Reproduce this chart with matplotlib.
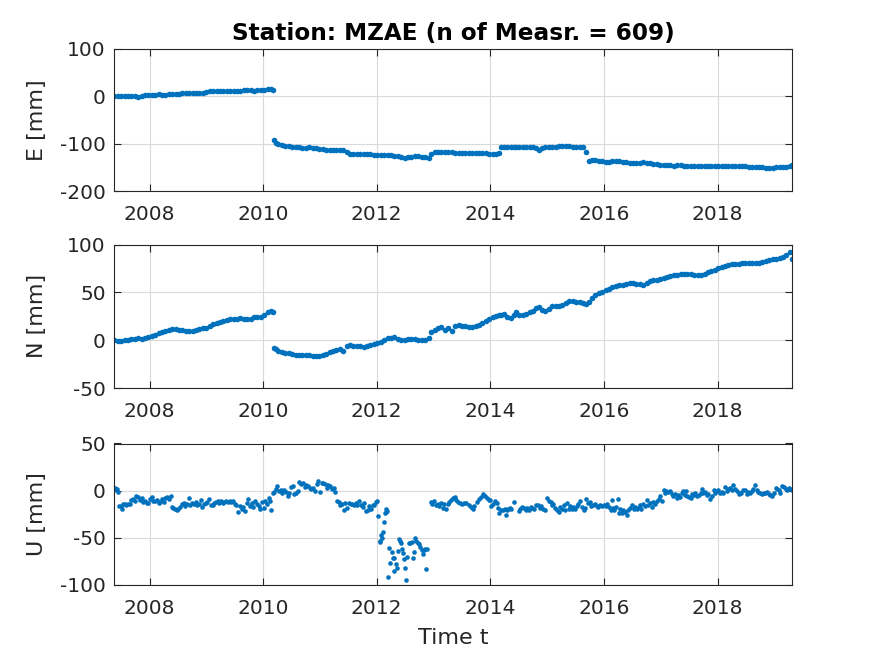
import matplotlib
matplotlib.use("Agg")
import matplotlib.pyplot as plt

plt.rcParams["axes.unicode_minus"] = False

# decimal years shared by the E and N panels
t_en = [
    2007.38, 2007.44, 2007.50, 2007.56, 2007.62, 2007.68, 2007.74, 2007.80, 2007.86, 2007.92,
    2007.98, 2008.04, 2008.10, 2008.16, 2008.22, 2008.28, 2008.34, 2008.40, 2008.46, 2008.52,
    2008.58, 2008.64, 2008.70, 2008.76, 2008.82, 2008.88, 2008.94, 2009.00, 2009.06, 2009.12,
    2009.18, 2009.24, 2009.30, 2009.36, 2009.42, 2009.48, 2009.54, 2009.60, 2009.66, 2009.72,
    2009.78, 2009.84, 2009.90, 2009.96, 2010.02, 2010.08, 2010.13, 2010.17,
    2010.19, 2010.22, 2010.27, 2010.33, 2010.39, 2010.45, 2010.51, 2010.57, 2010.63, 2010.69,
    2010.75, 2010.81, 2010.87, 2010.93, 2010.99, 2011.05, 2011.11, 2011.17, 2011.23, 2011.29,
    2011.35, 2011.41, 2011.47, 2011.53, 2011.59, 2011.65, 2011.71, 2011.77, 2011.83, 2011.89,
    2011.95, 2012.01, 2012.07, 2012.13, 2012.19, 2012.25, 2012.31, 2012.37, 2012.43, 2012.49,
    2012.55, 2012.61, 2012.67, 2012.73, 2012.79, 2012.85, 2012.92,
    2012.96, 2013.02, 2013.08, 2013.14, 2013.20, 2013.26, 2013.32, 2013.38, 2013.44, 2013.50,
    2013.56, 2013.62, 2013.68, 2013.74, 2013.80, 2013.86, 2013.92, 2013.98, 2014.04, 2014.10,
    2014.15,
    2014.18, 2014.24, 2014.30, 2014.36, 2014.42, 2014.46,
    2014.51, 2014.57, 2014.63, 2014.69, 2014.75, 2014.81, 2014.85, 2014.91, 2014.97, 2015.03,
    2015.09, 2015.15, 2015.21, 2015.27, 2015.33, 2015.39, 2015.45, 2015.51, 2015.57, 2015.63,
    2015.68,
    2015.73, 2015.79, 2015.85, 2015.91, 2015.97, 2016.03, 2016.09, 2016.15, 2016.21, 2016.27,
    2016.33, 2016.39, 2016.45, 2016.51, 2016.57, 2016.63, 2016.69, 2016.75, 2016.81, 2016.87,
    2016.93, 2016.99, 2017.05, 2017.11, 2017.17, 2017.23, 2017.29, 2017.35, 2017.41, 2017.47,
    2017.53, 2017.59, 2017.65, 2017.71, 2017.77, 2017.83, 2017.89, 2017.95, 2018.01, 2018.07,
    2018.13, 2018.19, 2018.25, 2018.31, 2018.37, 2018.43, 2018.49, 2018.55, 2018.61, 2018.67,
    2018.73, 2018.79, 2018.85, 2018.91, 2018.97, 2019.03, 2019.09, 2019.15, 2019.21, 2019.27,
    2019.31,
]

east = [
    0, 0, 1, 0, 0, 1, 0, -1, 0, 2,
    2, 3, 3, 4, 3, 3, 4, 5, 4, 5,
    6, 6, 6, 7, 6, 6, 8, 10, 11, 11,
    11, 11, 12, 11, 11, 12, 12, 12, 13, 14,
    13, 12, 13, 14, 14, 15, 15, 14,
    -92, -98, -100, -102, -104, -104, -106, -108, -108, -109,
    -109, -108, -110, -110, -112, -111, -113, -114, -113, -113,
    -113, -114, -118, -121, -121, -121, -121, -122, -122, -122,
    -123, -123, -124, -123, -123, -124, -125, -126, -129, -130,
    -129, -128, -127, -127, -128, -129, -131,
    -121, -118, -117, -117, -118, -117, -118, -120, -120, -120,
    -120, -120, -120, -120, -120, -120, -120, -121, -121, -121,
    -120,
    -107, -106, -106, -106, -107, -106,
    -106, -107, -108, -108, -108, -109, -113, -109, -108, -107,
    -107, -106, -105, -104, -104, -105, -106, -106, -107, -108,
    -117,
    -137, -135, -135, -136, -137, -138, -138, -137, -137, -136,
    -138, -139, -140, -141, -140, -140, -139, -140, -141, -143,
    -144, -145, -145, -145, -146, -147, -146, -146, -147, -147,
    -147, -147, -148, -148, -148, -148, -148, -147, -147, -147,
    -147, -148, -148, -148, -148, -147, -148, -149, -149, -149,
    -149, -150, -151, -151, -151, -150, -150, -150, -149, -148,
    -146,
]

north = [
    0, -1, -1, 0, 0, 1, 1, 2, 1, 2,
    3, 4, 5, 7, 9, 10, 11, 12, 12, 11,
    11, 10, 10, 10, 11, 12, 13, 13, 15, 17,
    18, 19, 20, 21, 22, 22, 22, 23, 22, 22,
    22, 24, 24, 24, 26, 29, 31, 29,
    -8, -9, -11, -12, -13, -13, -14, -15, -15, -16,
    -16, -16, -17, -17, -17, -16, -14, -12, -11, -10,
    -9, -11, -6, -5, -6, -6, -6, -7, -6, -5,
    -4, -3, -2, 0, 2, 2, 3, 1, 0, 0,
    1, 1, 1, 0, 0, 0, 2,
    9, 11, 13, 14, 11, 13, 10, 15, 16, 15,
    15, 14, 14, 15, 16, 18, 20, 22, 24, 25,
    26,
    26, 27, 24, 23, 26, 29,
    26, 26, 27, 29, 31, 34, 35, 32, 30, 33,
    36, 36, 36, 37, 39, 41, 41, 40, 40, 39,
    38,
    40, 44, 47, 49, 50, 52, 53, 56, 57, 58,
    58, 59, 60, 60, 59, 59, 58, 60, 62, 63,
    63, 64, 65, 66, 67, 68, 68, 69, 69, 69,
    69, 68, 68, 68, 69, 71, 72, 73, 75, 76,
    78, 79, 80, 80, 80, 81, 81, 81, 81, 81,
    81, 82, 83, 84, 85, 85, 86, 87, 89, 92,
    85,
]

# the up component is noisier, so it gets its own denser time list
t_up = [
    2007.38, 2007.40, 2007.42, 2007.44, 2007.47, 2007.49, 2007.52, 2007.54, 2007.57, 2007.59,
    2007.62, 2007.65, 2007.68, 2007.71, 2007.74, 2007.77, 2007.80, 2007.83, 2007.86, 2007.89,
    2007.92, 2007.95, 2007.98, 2008.01, 2008.04, 2008.07, 2008.10, 2008.13, 2008.16, 2008.19,
    2008.22, 2008.25, 2008.28, 2008.31, 2008.34, 2008.37, 2008.39, 2008.42, 2008.45, 2008.48,
    2008.51, 2008.54, 2008.57, 2008.60, 2008.63, 2008.66, 2008.69, 2008.72, 2008.75, 2008.78,
    2008.81, 2008.84, 2008.87, 2008.90, 2008.93, 2008.96, 2008.99, 2009.02, 2009.05, 2009.08,
    2009.11, 2009.14, 2009.17, 2009.20, 2009.23, 2009.26, 2009.29, 2009.32, 2009.35, 2009.38,
    2009.41, 2009.44, 2009.47, 2009.50, 2009.53, 2009.56, 2009.59, 2009.62, 2009.65, 2009.68,
    2009.71, 2009.74, 2009.77, 2009.80, 2009.83, 2009.86, 2009.89, 2009.92, 2009.95, 2009.98,
    2010.01, 2010.04, 2010.07, 2010.10, 2010.12, 2010.14,
    2010.17, 2010.20, 2010.23, 2010.25, 2010.28, 2010.31, 2010.34, 2010.37, 2010.40, 2010.43,
    2010.46, 2010.49, 2010.52, 2010.55, 2010.58, 2010.61, 2010.64, 2010.67, 2010.70, 2010.73,
    2010.76, 2010.79, 2010.82, 2010.85, 2010.88, 2010.91, 2010.94, 2010.97, 2011.00, 2011.03,
    2011.06, 2011.09, 2011.12, 2011.15, 2011.18, 2011.21, 2011.24, 2011.27, 2011.30, 2011.33,
    2011.36, 2011.39, 2011.42, 2011.45, 2011.48, 2011.51, 2011.54, 2011.57, 2011.60, 2011.63,
    2011.66, 2011.69, 2011.72, 2011.75, 2011.78, 2011.81, 2011.84, 2011.87, 2011.90, 2011.93,
    2011.96, 2011.98, 2012.00, 2012.03,
    2012.05, 2012.06, 2012.07, 2012.09, 2012.11, 2012.12, 2012.15, 2012.16, 2012.17, 2012.18,
    2012.20, 2012.22, 2012.24, 2012.26, 2012.28, 2012.31, 2012.30, 2012.34, 2012.35, 2012.37,
    2012.39, 2012.41, 2012.43, 2012.45, 2012.46, 2012.48, 2012.50, 2012.52, 2012.54, 2012.56,
    2012.59, 2012.62, 2012.64, 2012.65, 2012.67, 2012.69, 2012.72, 2012.74, 2012.76, 2012.79,
    2012.81, 2012.83, 2012.85, 2012.86, 2012.89,
    2012.95, 2012.98, 2013.01, 2013.04, 2013.07, 2013.10, 2013.13, 2013.16, 2013.19, 2013.22,
    2013.25, 2013.28, 2013.31, 2013.34, 2013.37, 2013.40, 2013.43, 2013.46, 2013.50, 2013.54,
    2013.58, 2013.62, 2013.66, 2013.69, 2013.72, 2013.76, 2013.80, 2013.84, 2013.87, 2013.90,
    2013.94, 2013.97, 2013.99, 2014.02, 2014.05, 2014.08, 2014.11, 2014.14, 2014.16, 2014.19,
    2014.22, 2014.25, 2014.27, 2014.29, 2014.31, 2014.34, 2014.37, 2014.41,
    2014.50, 2014.53, 2014.56, 2014.59, 2014.62, 2014.65, 2014.68, 2014.71, 2014.74, 2014.77,
    2014.81, 2014.84, 2014.87, 2014.90, 2014.93, 2014.96, 2015.00, 2015.03, 2015.06, 2015.09,
    2015.11, 2015.14, 2015.17, 2015.20, 2015.23, 2015.26, 2015.29, 2015.32, 2015.35, 2015.38,
    2015.41, 2015.44, 2015.46, 2015.49, 2015.52, 2015.55, 2015.58, 2015.61, 2015.64, 2015.66,
    2015.69, 2015.72, 2015.75, 2015.78, 2015.81, 2015.84, 2015.87, 2015.90, 2015.93, 2015.96,
    2016.00, 2016.03, 2016.06, 2016.09, 2016.12, 2016.14, 2016.16, 2016.18, 2016.21, 2016.24,
    2016.27, 2016.29, 2016.31, 2016.34, 2016.37, 2016.40, 2016.43, 2016.46, 2016.49, 2016.52,
    2016.55, 2016.58, 2016.61, 2016.63, 2016.66, 2016.69, 2016.72, 2016.75, 2016.78, 2016.81,
    2016.84, 2016.87, 2016.90, 2016.93, 2016.96, 2016.99, 2017.02, 2017.05, 2017.07, 2017.10,
    2017.13, 2017.16, 2017.19, 2017.22, 2017.25, 2017.28, 2017.31, 2017.34, 2017.37, 2017.40,
    2017.42, 2017.44, 2017.47, 2017.50, 2017.53, 2017.55, 2017.58, 2017.61, 2017.64, 2017.67,
    2017.70, 2017.73, 2017.75, 2017.78, 2017.81, 2017.84, 2017.87, 2017.90, 2017.93, 2017.95,
    2017.98, 2018.01, 2018.04, 2018.07, 2018.10, 2018.13, 2018.16, 2018.19, 2018.22, 2018.25,
    2018.28, 2018.31, 2018.34, 2018.37, 2018.39, 2018.42, 2018.45, 2018.49, 2018.51, 2018.54,
    2018.57, 2018.60, 2018.63, 2018.66, 2018.69, 2018.71, 2018.74, 2018.78, 2018.81, 2018.84,
    2018.87, 2018.90, 2018.93, 2018.96, 2018.99, 2019.02, 2019.05, 2019.08, 2019.10, 2019.14,
    2019.17, 2019.20, 2019.22, 2019.25, 2019.28, 2019.31,
]

up = [
    1, 3, 2, -1, -16, -16, -19, -14, -14, -15,
    -14, -14, -10, -9, -11, -6, -7, -10, -8, -12,
    -11, -13, -13, -9, -7, -11, -11, -10, -13, -12,
    -9, -12, -8, -7, -9, -6, -17, -18, -19, -20,
    -19, -17, -14, -13, -16, -14, -8, -15, -13, -14,
    -12, -15, -14, -10, -17, -14, -13, -12, -9, -15,
    -15, -13, -12, -11, -13, -11, -13, -12, -11, -12,
    -11, -12, -11, -14, -15, -23, -16, -19, -17, -22,
    -13, -9, -16, -13, -17, -11, -14, -16, -19, -12,
    -18, -11, -14, -8, -11, -20,
    -2, -1, 2, 5, 0, 1, -2, 1, -1, -6,
    -3, 4, 5, -4, -3, 0, 9, 7, 8, 4,
    6, 5, 3, 2, 3, 0, 7, 10, -1, 8,
    8, 7, 3, 6, 5, 2, 3, -1, -11, -12,
    -15, -14, -20, -13, -18, -13, -14, -14, -15, -13,
    -15, -11, -15, -17, -13, -22, -21, -16, -19, -15,
    -15, -12, -11, -27,
    -54, -53, -47, -50, -44, -33, -24, -19, -23, -22,
    -92, -61, -77, -65, -71, -71, -85, -78, -82, -64,
    -51, -53, -55, -62, -66, -72, -82, -95, -70, -56,
    -55, -54, -71, -65, -50, -53, -55, -57, -60, -63,
    -67, -63, -62, -83, -62,
    -12, -14, -11, -15, -14, -16, -13, -18, -14, -19,
    -14, -12, -10, -8, -7, -10, -12, -13, -14, -13,
    -13, -15, -17, -19, -16, -12, -9, -7, -4, -6,
    -8, -10, -10, -16, -14, -11, -13, -18, -24, -21,
    -20, -19, -26, -20, -19, -18, -19, -12,
    -22, -19, -17, -18, -20, -18, -21, -17, -18, -19,
    -15, -15, -18, -16, -19, -21, -8, -11, -12, -15,
    -14, -18, -20, -23, -17, -19, -15, -20, -13, -19,
    -16, -19, -17, -19, -16, -14, -11, -17, -21, -18,
    -9, -13, -12, -16, -15, -14, -16, -17, -15, -16,
    -15, -16, -14, -17, -20, -10, -18, -21, -17, -9,
    -24, -19, -24, -20, -23, -26, -21, -18, -15, -19,
    -17, -19, -17, -15, -19, -14, -16, -10, -15, -13,
    -17, -12, -14, -11, -9, -6, -11, 1, -3, 0,
    -1, 0, -4, -6, -4, -8, -5, -7, -3, 0,
    -5, 0, -6, -7, -8, -4, -5, -3, -6, -5,
    -3, 2, -2, -1, -5, -4, -9, -6, 1, -2,
    0, 1, -2, -1, -3, 4, 0, 2, 3, 1,
    6, 2, 0, -4, -2, -3, 1, 1, -4, -1,
    -3, 0, 2, 6, 1, -1, -3, -4, -2, -3,
    -1, -4, -5, -6, -3, 3, 2, 1, -3, 5,
    4, 2, 1, 3, 2, 1,
]

year_ticks = [2008, 2010, 2012, 2014, 2016, 2018]
panels = [
    ("E [mm]", t_en, east, (-200, 100), [-200, -100, 0, 100], 49, 191, 4.0),
    ("N [mm]", t_en, north, (-50, 100), [-50, 0, 50, 100], 244.5, 388, 4.0),
    ("U [mm]", t_up, up, (-100, 50), [-100, -50, 0, 50], 443.5, 585, 3.3),
]

W, H = 875, 656
dark = "#262626"
fig = plt.figure(figsize=(W / 100, H / 100), dpi=100)

for i, (name, t, vals, ylim, yticks, top, bottom, msize) in enumerate(panels):
    ax = fig.add_axes([114 / W, 1 - bottom / H, 678 / W, (bottom - top) / H])
    ax.plot(t, vals, linestyle="none", marker="o", markersize=msize,
            markeredgewidth=0, color="#0072BD")
    ax.set_xlim(2007.375, 2019.31)
    ax.set_ylim(*ylim)
    ax.set_xticks(year_ticks)
    ax.set_yticks(yticks)
    ax.grid(True, color="#d9d9d9", linewidth=0.8)
    ax.set_axisbelow(True)
    ax.tick_params(direction="in", length=5, width=0.8, top=True, right=True,
                   labelsize=14.5, colors=dark)
    ax.tick_params(axis="y", pad=6)
    ax.tick_params(axis="x", pad=10)
    for spine in ax.spines.values():
        spine.set_linewidth(0.8)
        spine.set_color(dark)
    ax.set_ylabel(name, fontsize=16, color=dark)
    ax.yaxis.set_label_coords((47 - 114) / 678, 0.5)
    if i == 0:
        ax.set_title("Station: MZAE (n of Measr. = 609)", fontsize=16.7,
                     fontweight="bold", color="black", pad=6.5)
    if i == 2:
        ax.set_xlabel("Time t", fontsize=16, color=dark, labelpad=7)

fig.savefig("out.png", dpi=100)
